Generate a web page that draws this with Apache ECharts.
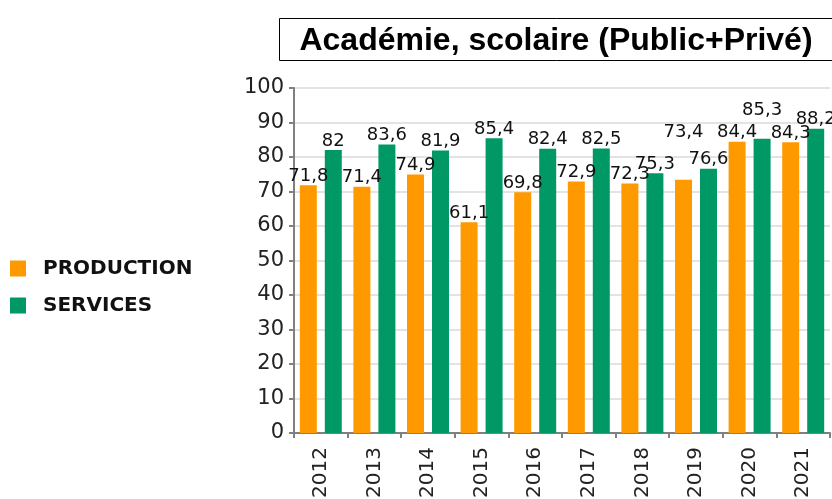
<!DOCTYPE html>
<html>
<head>
<meta charset="utf-8">
<script src="https://cdn.jsdelivr.net/npm/echarts@6/dist/echarts.min.js"></script>
<style>
  html, body { margin: 0; padding: 0; background: #fff; }
  #main { width: 832px; height: 499px; }
</style>
</head>
<body>
<div id="main"></div>
<script>
var years = ['2012', '2013', '2014', '2015', '2016', '2017', '2018', '2019', '2020', '2021'];
var production = [71.8, 71.4, 74.9, 61.1, 69.8, 72.9, 72.3, 73.4, 84.4, 84.3];
var services = [82, 83.6, 81.9, 85.4, 82.4, 82.5, 75.3, 76.6, 85.3, 88.2];
var yTicks = [0, 10, 20, 30, 40, 50, 60, 70, 80, 90, 100];

// labels moved up by the original to avoid overlaps
var prodLift = { 7: -38 };
var servLift = { 8: -19 };

function withLabels(values, lift) {
    return values.map(function (v, i) {
        var item = { value: v };
        if (lift[i]) {
            item.label = { offset: [0, lift[i]] };
        }
        return item;
    });
}

function comma(p) {
    return String(p.value).replace('.', ',');
}

var labelStyle = {
    show: true,
    position: 'top',
    distance: 0,
    fontFamily: 'DejaVu Sans',
    fontSize: 18,
    color: '#111',
    formatter: comma
};

var option = {
    animation: false,
    grid: {
        left: 294,
        right: 2,
        top: 88,
        bottom: 66,
        outerBoundsMode: 'none',
        containLabel: false
    },
    graphic: {
        elements: [
            {
                type: 'rect',
                shape: { x: 279.5, y: 18.5, width: 560, height: 42 },
                style: { fill: '#fff', stroke: '#000', lineWidth: 1 }
            },
            {
                type: 'text',
                x: 556,
                y: 41,
                style: {
                    text: 'Académie, scolaire (Public+Privé)',
                    align: 'center',
                    verticalAlign: 'middle',
                    fontFamily: 'Liberation Sans',
                    fontWeight: 'bold',
                    fontSize: 32,
                    fill: '#000'
                }
            }
        ]
    },
    legend: {
        orient: 'vertical',
        left: 5,
        top: 253,
        icon: 'rect',
        itemWidth: 16,
        itemHeight: 16,
        itemGap: 16,
        textStyle: {
            fontFamily: 'DejaVu Sans',
            fontWeight: 'bold',
            fontSize: 20,
            lineHeight: 16,
            padding: [5, 0, 0, 12],
            color: '#111'
        },
        data: ['PRODUCTION', 'SERVICES']
    },
    xAxis: {
        type: 'category',
        data: years,
        axisLine: { lineStyle: { color: '#808080', width: 2 } },
        axisTick: { show: true, length: 5, lineStyle: { color: '#808080', width: 2 } },
        axisLabel: {
            rotate: 90,
            margin: 14,
            fontFamily: 'DejaVu Sans',
            fontSize: 20,
            color: '#222'
        }
    },
    yAxis: {
        type: 'value',
        min: 0,
        max: 100,
        interval: 10,
        axisLine: { show: true, lineStyle: { color: '#808080', width: 2 } },
        axisTick: { show: true, length: 5, lineStyle: { color: '#808080', width: 2 } },
        splitLine: { lineStyle: { color: '#e3e3e3', width: 2 } },
        axisLabel: {
            margin: 10,
            fontFamily: 'DejaVu Sans',
            fontSize: 21,
            color: '#222',
            formatter: function (v) {
                return yTicks.indexOf(v) >= 0 ? String(v) : '';
            }
        }
    },
    series: [
        {
            name: 'PRODUCTION',
            type: 'bar',
            barWidth: 17,
            barGap: '47%',
            itemStyle: { color: '#ff9900' },
            label: labelStyle,
            data: withLabels(production, prodLift)
        },
        {
            name: 'SERVICES',
            type: 'bar',
            barWidth: 17,
            itemStyle: { color: '#009966' },
            label: labelStyle,
            data: withLabels(services, servLift)
        }
    ]
};

echarts.init(document.getElementById('main')).setOption(option);
</script>
</body>
</html>
